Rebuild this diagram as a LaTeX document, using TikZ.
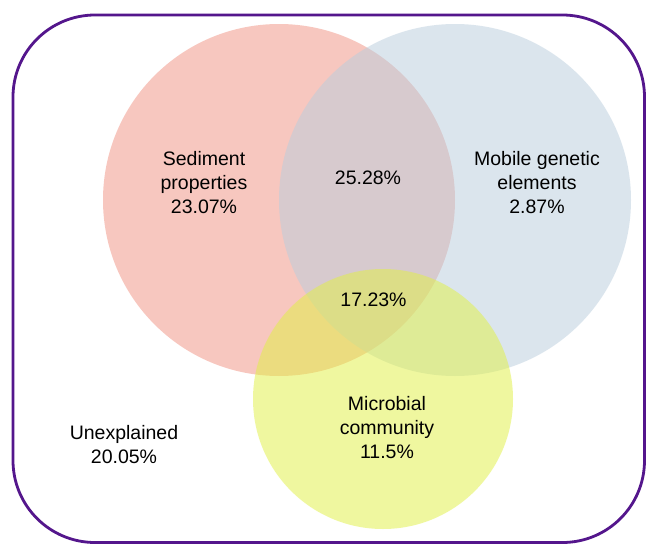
\documentclass[tikz,border=0pt]{standalone}
\usepackage{fontspec}
\setmainfont{Liberation Sans}
\definecolor{sedred}{RGB}{241,145,129}
\definecolor{mgeblue}{RGB}{185,205,221}
\definecolor{micyel}{RGB}{225,241,65}
\definecolor{frame}{RGB}{84,22,140}
\begin{document}
\begin{tikzpicture}[x=1pt,y=-1pt,
  setc/.style={fill opacity=0.5, draw=none},
  lab/.style={align=center, font=\fontsize{19.5}{24}\selectfont, inner sep=0pt}]
\useasboundingbox (0,0) rectangle (646,544);
\fill[white] (0,0) rectangle (646,544);
\draw[frame, line width=2.8pt, rounded corners=82pt] (13,15) rectangle (644.5,542.5);
\fill[sedred, setc] (279,200) circle[radius=176];
\fill[mgeblue, setc] (455,200) circle[radius=176];
\fill[micyel, setc] (383,399) circle[radius=130];
\node[lab] (sed) at (204,183) {Sediment\\properties\\23.07\%};
\node[lab] (sm) at (368,178) {25.28\%};
\node[lab] (mge) at (537,183) {Mobile genetic\\elements\\2.87\%};
\node[lab] (all) at (373.5,300) {17.23\%};
\node[lab] (mic) at (387,428) {Microbial\\community\\11.5\%};
\node[lab] (une) at (124,445) {Unexplained\\20.05\%};
\end{tikzpicture}
\end{document}
